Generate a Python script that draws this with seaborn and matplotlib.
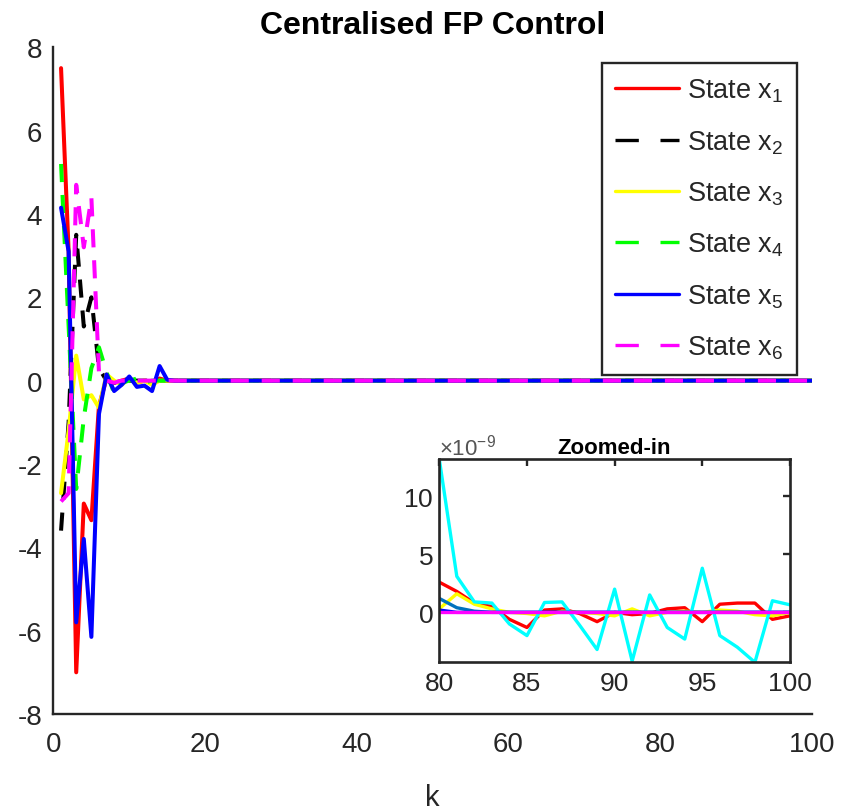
import numpy as np
import matplotlib
matplotlib.use("Agg")
import matplotlib.pyplot as plt
import seaborn as sns
from matplotlib.lines import Line2D

# ---------------- data ----------------
k = np.arange(1, 101)

# transient part (k = 1..16); after that every state has settled at 0
x1_early = [7.5, 3.1, -7.0, -2.95, -3.35, -0.6, 0.05, -0.05, 0.0, 0.05, -0.05, 0.0, -0.05, 0.05, 0.0, 0.0]
x2_early = [-3.6, -1.0, 3.5, 1.3, 2.0, 0.3, 0.0, -0.05, 0.0, 0.0, 0.0, 0.0, 0.0, 0.0, 0.0, 0.0]
x3_early = [-2.7, -1.2, 0.6, -0.45, -0.35, -0.65, 0.15, 0.0, -0.1, 0.05, -0.05, 0.0, -0.1, 0.0, 0.0, 0.0]
x4_early = [5.2, 1.3, -2.6, -0.9, 0.3, 0.8, 0.2, -0.3, -0.05, 0.0, 0.05, -0.05, 0.0, 0.0, 0.0, 0.0]
x5_early = [4.15, 3.1, -5.8, -3.8, -6.15, -0.8, 0.15, -0.25, -0.1, 0.1, -0.15, -0.12, -0.25, 0.35, 0.02, 0.0]
x6_early = [-2.9, -2.7, 4.7, 3.2, 4.4, 0.2, 0.0, -0.05, 0.0, 0.0, 0.0, 0.0, 0.0, 0.0, 0.0, 0.0]
settled = [0.0] * (100 - 16)

states = {
    "x1": x1_early + settled,
    "x2": x2_early + settled,
    "x3": x3_early + settled,
    "x4": x4_early + settled,
    "x5": x5_early + settled,
    "x6": x6_early + settled,
}
labels = ["State x$_1$", "State x$_2$", "State x$_3$",
          "State x$_4$", "State x$_5$", "State x$_6$"]
colors = ["#FF0000", "#000000", "#FFFF00", "#00FF00", "#0000FF", "#FF00FF"]
dashed = [False, True, False, True, False, True]

# zoomed-in window, values in units of 1e-9
zk = np.arange(80, 101)
z_red = [2.6, 1.8, 0.8, 0.5, -0.6, -1.3, 0.2, 0.3, -0.1, -0.8, 0.0, -0.2, -0.1, 0.3, 0.4, -0.8, 0.7, 0.8, 0.8, -0.6, -0.3]
z_yellow = [0.3, 1.6, 0.7, 0.3, 0.0, -0.1, -0.3, 0.1, 0.0, -0.1, -0.3, 0.3, -0.3, 0.0, 0.1, 0.0, 0.2, 0.1, -0.2, -0.3, 0.0]
z_steel = [1.2, 0.4, 0.1, 0.0, 0.0, 0.0, 0.0, 0.0, 0.0, 0.0, 0.0, 0.0, 0.0, 0.0, 0.0, 0.0, 0.0, 0.0, 0.0, 0.0, 0.0]
z_cyan = [13.2, 3.1, 0.9, 0.8, -1.0, -2.0, 0.85, 0.9, -1.1, -3.2, 2.0, -4.2, 1.5, -1.3, -2.3, 3.8, -2.0, -3.0, -4.3, 1.0, 0.65]
z_blue = [0.2, 0.0, 0.0, 0.0, 0.0, 0.0, 0.0, 0.0, 0.0, 0.0, 0.0, 0.0, 0.0, 0.0, 0.0, 0.0, 0.0, 0.0, 0.0, 0.0, 0.0]
z_magenta = [0.0] * 21
zoom_series = [z_red, z_yellow, z_steel, z_cyan, z_blue, z_magenta]
zoom_colors = ["#FF0000", "#FFFF00", "#0072BD", "#00FFFF", "#0000FF", "#FF00FF"]

# ---------------- style ----------------
sns.set_theme(style="white")
plt.rcParams["font.family"] = ["Liberation Sans", "DejaVu Sans"]
plt.rcParams["mathtext.default"] = "regular"
plt.rcParams["axes.unicode_minus"] = False
AX_COL = "#262626"

fig = plt.figure(figsize=(8.42, 8.12), dpi=100)
ax = fig.add_axes([0.0635, 0.1195, 0.9005, 0.821])

LW = 2.9
DASH = (0, (4.5, 3.2))
for (name, vals), col, dsh in zip(states.items(), colors, dashed):
    sns.lineplot(x=k, y=vals, ax=ax, color=col, lw=LW,
                 linestyle=DASH if dsh else "-")

ax.set_xlim(0, 100)
ax.set_ylim(-8, 8)
ax.set_xticks([0, 20, 40, 60, 80, 100])
ax.set_yticks([-8, -6, -4, -2, 0, 2, 4, 6, 8])
for side, s in ax.spines.items():
    s.set_linewidth(1.7)
    s.set_color(AX_COL)
    s.set_visible(side in ("left", "bottom"))
ax.tick_params(axis="both", direction="in", top=False, right=False,
               length=6.5, width=1.7, colors=AX_COL, labelsize=20)
ax.tick_params(axis="x", pad=12)
ax.tick_params(axis="y", pad=8)
ax.set_xlabel("k", fontsize=21, color=AX_COL, labelpad=19)
ax.set_title("Centralised FP Control", fontsize=23, fontweight="bold",
             color="black", pad=10)

handles = []
for col, dsh in zip(colors, dashed):
    handles.append(Line2D([0], [0], color=col, lw=2.4,
                          linestyle=(0, (7, 6.5)) if dsh else "-"))
leg = ax.legend(handles, labels, loc="upper right", bbox_to_anchor=(0.981, 0.976),
                borderaxespad=0, fontsize=19.5, handlelength=2.35,
                handletextpad=0.3, labelspacing=0.88, borderpad=0.5,
                fancybox=False, framealpha=1, edgecolor=AX_COL)
leg.get_frame().set_linewidth(1.7)

# ---------------- inset ----------------
ins = fig.add_axes([0.5217, 0.1831, 0.4165, 0.2504])
for vals, col in zip(zoom_series, zoom_colors):
    sns.lineplot(x=zk, y=np.array(vals) * 1e-9, ax=ins, color=col, lw=2.4)
ins.set_xlim(80, 100)
ins.set_ylim(-4.3e-9, 13.2e-9)
ins.set_xticks([80, 85, 90, 95, 100])
ins.set_yticks([0, 5e-9, 10e-9])
ins.ticklabel_format(axis="y", style="sci", scilimits=(-9, -9), useMathText=True)
for s in ins.spines.values():
    s.set_linewidth(1.9)
    s.set_color(AX_COL)
    s.set_visible(True)
ins.tick_params(axis="both", direction="in", top=True, right=True,
                length=5, width=1.7, colors=AX_COL, labelsize=19)
ins.tick_params(axis="x", pad=6)
ins.tick_params(axis="y", pad=4)
ins.yaxis.get_offset_text().set_fontsize(16)
ins.yaxis.get_offset_text().set_color("#555555")
ins.set_xlabel("")
ins.set_ylabel("")
ins.set_title("Zoomed-in", fontsize=16, fontweight="bold", color="black", pad=4)

fig.savefig("out.png", dpi=100)
